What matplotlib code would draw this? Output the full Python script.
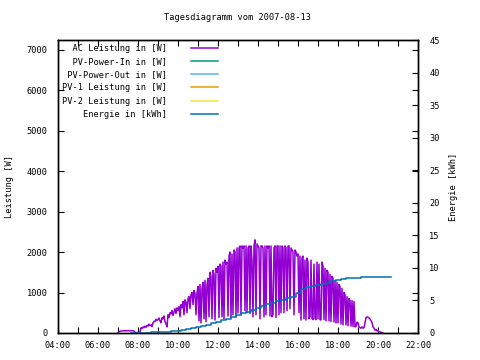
import numpy as np
import matplotlib
matplotlib.use("Agg")
import matplotlib.pyplot as plt
from matplotlib.ticker import MultipleLocator, FuncFormatter

# ---- data -------------------------------------------------------------
title = "Tagesdiagramm vom 2007-08-13"
ac_start_hour = 7.0          # first sample 07:00, one sample every 3 minutes
ac_step_min = 3
ac_power = [
    0, 30, 45, 50, 50, 55, 55, 55, 55, 55, 60, 55, 55, 60, 55, 55, 50, 15, 10, 10,                          # 07
    10, 10, 20, 130, 110, 150, 130, 170, 140, 190, 170, 220, 180, 200, 160, 250, 290, 280, 340, 310,        # 08
    330, 370, 300, 250, 380, 350, 420, 280, 230, 150, 450, 380, 500, 470, 560, 430, 520, 600, 480, 620,     # 09
    560, 650, 400, 700, 620, 780, 450, 820, 760, 500, 850, 900, 600, 950, 1000, 700, 1050, 980, 450, 1000,  # 10
    1150, 300, 1200, 250, 1100, 1250, 350, 1300, 280, 1200, 1350, 400, 1500, 1400, 350, 1550, 1450, 320, 1600, 1500,  # 11
    1650, 380, 1700, 1650, 400, 1750, 350, 1800, 1700, 1750, 420, 1900, 2000, 380, 1950, 450, 2050, 2000, 400, 2100,  # 12
    500, 2100, 2150, 450, 2150, 2100, 2150, 550, 2150, 500, 2100, 2150, 480, 2150, 1800, 400, 2150, 2300, 450, 2200,  # 13
    2150, 2100, 350, 2150, 2150, 2100, 400, 2150, 450, 2150, 2100, 2150, 420, 2150, 400, 450, 2100, 2150, 380, 2150,  # 14
    2150, 450, 2150, 500, 2150, 2100, 500, 2150, 2100, 550, 2150, 2150, 600, 2100, 2050, 2000, 450, 2050, 2000, 1900,  # 15
    1950, 500, 1900, 320, 1850, 1900, 350, 1800, 320, 1850, 1750, 350, 400, 1800, 350, 330, 1700, 350, 330, 1750,     # 16
    350, 1700, 330, 320, 1750, 1650, 330, 1600, 300, 1550, 1500, 300, 1450, 280, 1400, 1350, 270, 1300, 250, 1250,    # 17
    250, 1200, 1150, 220, 1100, 200, 1000, 950, 200, 900, 180, 850, 800, 170, 800, 160, 780, 150, 160, 270,            # 18
    250, 150, 130, 120, 150, 120, 130, 250, 380, 400, 390, 370, 350, 300, 260, 150, 120, 70, 90, 50,                   # 19
    60, 30, 25, 20, 10, 0,                                                                                              # 20
]
energy_start_hour = 7 + 40 / 60   # 07:40, one value every 15 minutes
energy_step_min = 15
energy_kwh = [
    0.00, 0.00,
    0.02, 0.05, 0.08, 0.12,
    0.16, 0.22, 0.30, 0.38,
    0.48, 0.62, 0.76, 0.92,
    1.10, 1.30, 1.50, 1.75,
    1.98, 2.22, 2.45, 2.75,
    3.00, 3.28, 3.55, 3.85,
    4.12, 4.38, 4.62, 4.88,
    5.12, 5.35, 5.60, 6.15,
    6.70, 7.00, 7.25, 7.40,
    7.52, 7.75, 7.95, 8.15,
    8.28, 8.40, 8.45, 8.50,
    8.55, 8.60, 8.65, 8.67,
    8.67, 8.67, 8.67,
]
labels = ["AC Leistung in [W]", "PV-Power-In in [W]", "PV-Power-Out in [W]",
          "PV-1 Leistung in [W]", "PV-2 Leistung in [W]", "Energie in [kWh]"]
colors = ["#9400D3", "#009E73", "#56B4E9", "#E69F00", "#F0E442", "#0072B2"]

# ---- figure -----------------------------------------------------------
FONT = "DejaVu Sans Mono"
FS = 6.2
plt.rcParams["font.family"] = [FONT]
plt.rcParams["font.size"] = FS

fig = plt.figure(figsize=(4.8, 3.6), dpi=100)
ax = fig.add_axes([58 / 480, 1 - 333 / 360, 360 / 480, 293 / 360])
ax2 = ax.twinx()

t_ac = ac_start_hour + np.arange(len(ac_power)) * ac_step_min / 60
t_en = energy_start_hour + np.arange(len(energy_kwh)) * energy_step_min / 60

handles = []
h, = ax.plot(t_ac, ac_power, color=colors[0], lw=1.1)
handles.append(h)
for c in colors[1:5]:
    h, = ax.plot([], [], color=c, lw=1.1)
    handles.append(h)
h, = ax2.plot(t_en, energy_kwh, color=colors[5], lw=1.1, drawstyle="steps-post")
handles.append(h)

ax.set_xlim(4, 22)
ax.set_ylim(0, 7235)
ax2.set_ylim(0, 45)

ax.xaxis.set_major_locator(MultipleLocator(2))
ax.xaxis.set_minor_locator(MultipleLocator(1))
ax.xaxis.set_major_formatter(FuncFormatter(lambda v, p: "%02d:00" % int(round(v))))
ax.yaxis.set_major_locator(MultipleLocator(1000))
ax2.yaxis.set_major_locator(MultipleLocator(5))

ax.tick_params(axis="both", which="both", direction="in", top=True, right=True,
               length=4, width=0.8, labelsize=FS)
ax.tick_params(axis="x", which="both", pad=6)
ax.tick_params(axis="y", which="both", pad=7.5)
ax.tick_params(axis="x", which="minor", length=4)
ax2.tick_params(axis="y", direction="in", length=4, width=0.8, labelsize=FS, pad=8)

for a in (ax, ax2):
    for s in a.spines.values():
        s.set_linewidth(1.0)
        s.set_color("black")

ax.set_ylabel("Leistung [W]", fontsize=FS, labelpad=9)
ax2.set_ylabel("Energie [kWh]", fontsize=FS, labelpad=7)
fig.text(238 / 480, 1 - 18 / 360, title, ha="center", va="center", fontsize=FS)

maxlen = max(len(s) for s in labels)
padded = [s.rjust(maxlen) for s in labels]
leg = ax2.legend(handles, padded, loc="upper left", bbox_to_anchor=(0.012, 0.988),
                 frameon=False, markerfirst=False, handlelength=3.1,
                 handletextpad=2.8, labelspacing=0.5, borderpad=0, borderaxespad=0,
                 prop={"family": FONT, "size": FS})

fig.savefig("out.png", dpi=100)
